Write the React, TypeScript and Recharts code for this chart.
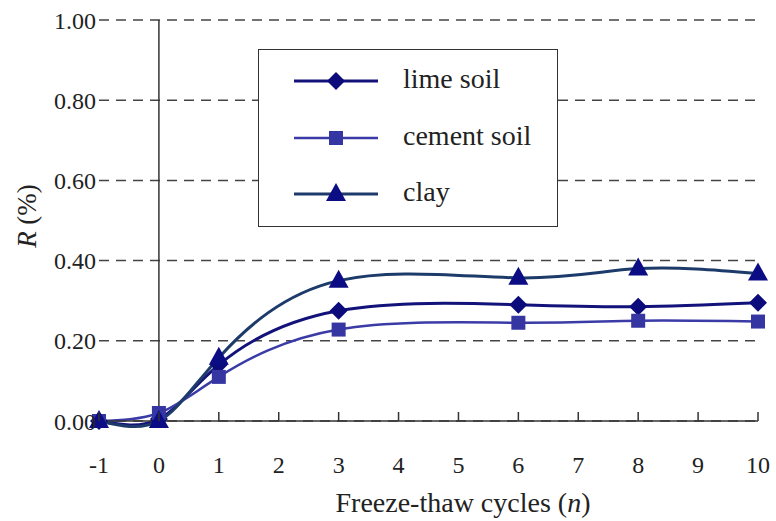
import { CartesianGrid, Legend, Line, LineChart, ReferenceLine, XAxis, YAxis } from 'recharts';

const cycles = [-1, 0, 1, 3, 6, 8, 10];
const limeSoil = [0, 0.005, 0.14, 0.275, 0.29, 0.285, 0.295];
const cementSoil = [0, 0.02, 0.11, 0.228, 0.245, 0.25, 0.248];
const clay = [0, 0, 0.158, 0.35, 0.357, 0.38, 0.368];

const xTicks = [-1, 0, 1, 2, 3, 4, 5, 6, 7, 8, 9, 10];
const yTicks = [0, 0.2, 0.4, 0.6, 0.8, 1.0];

const data = cycles.map((n, i) => ({ n, lime: limeSoil[i], cement: cementSoil[i], clay: clay[i] }));

const FONT = 'Liberation Serif';

type Shape = 'diamond' | 'square' | 'triangle';

const series: { key: string; name: string; stroke: string; fill: string; width: number; shape: Shape }[] = [
    { key: 'lime', name: 'lime soil', stroke: '#12127a', fill: '#0b0b7c', width: 3, shape: 'diamond' },
    { key: 'cement', name: 'cement soil', stroke: '#3b3ba8', fill: '#3636a3', width: 2.5, shape: 'square' },
    { key: 'clay', name: 'clay', stroke: '#1d3b6a', fill: '#0c0c85', width: 3, shape: 'triangle' },
];

function Marker({ cx, cy, shape, fill }: { cx: number; cy: number; shape: Shape; fill: string }) {
    if (shape === 'diamond') {
        return <polygon points={`${cx},${cy - 9} ${cx + 9},${cy} ${cx},${cy + 9} ${cx - 9},${cy}`} fill={fill} />;
    }
    if (shape === 'square') {
        return <rect x={cx - 7} y={cy - 7} width={14} height={14} fill={fill} />;
    }
    return <polygon points={`${cx},${cy - 11} ${cx + 10},${cy + 7} ${cx - 10},${cy + 7}`} fill={fill} />;
}

// tick mark points up into the plot, label sits well below the axis
function XTick({ x, y, payload }: any) {
    return (
        <g>
            <line x1={x} x2={x} y1={y - 9} y2={y} stroke="#333" strokeWidth={1.5} />
            <text x={x} y={y + 52} textAnchor="middle" fontSize={24} fontFamily={FONT} fill="#222">
                {payload.value}
            </text>
        </g>
    );
}

function LegendBox() {
    const rowTops = [31, 88, 144];
    return (
        <div
            style={{
                width: 300,
                height: 178,
                boxSizing: 'border-box',
                border: '1.5px solid #333',
                background: '#fff',
                position: 'relative',
                fontFamily: FONT,
            }}
        >
            {series.map((s, i) => (
                <div key={s.key} style={{ position: 'absolute', left: 0, top: rowTops[i] - 15, height: 30, width: 300 }}>
                    <svg width={100} height={30} style={{ position: 'absolute', left: 30, top: 0 }}>
                        <line x1={5} x2={89} y1={15} y2={15} stroke={s.stroke} strokeWidth={s.width} />
                        <Marker cx={47} cy={15} shape={s.shape} fill={s.fill} />
                    </svg>
                    <span style={{ position: 'absolute', left: 144, top: -3, fontSize: 28, lineHeight: '32px', color: '#222', fontFamily: FONT }}>
                        {s.name}
                    </span>
                </div>
            ))}
        </div>
    );
}

function XTitle() {
    return (
        <text x={463} y={512} textAnchor="middle" fontSize={28} fontFamily={FONT} fill="#222">
            Freeze-thaw cycles (<tspan fontStyle="italic">n</tspan>)
        </text>
    );
}

function YTitle() {
    return (
        <text
            x={27}
            y={216}
            transform="rotate(-90 27 216)"
            textAnchor="middle"
            dominantBaseline="central"
            fontSize={27}
            fontFamily={FONT}
            fill="#222"
        >
            <tspan fontStyle="italic">R</tspan> (%)
        </text>
    );
}

export default function App() {
    return (
        <div style={{ position: 'absolute', left: 0, top: 0, background: '#fff', fontFamily: FONT }}>
            <LineChart width={776} height={521} data={data} margin={{ top: 20, right: 18, left: 0, bottom: 40 }}>
                <CartesianGrid horizontal vertical={false} stroke="#444" strokeDasharray="10 7" strokeWidth={1.5} />
                <XAxis
                    dataKey="n"
                    type="number"
                    domain={[-1, 10]}
                    ticks={xTicks}
                    height={60}
                    interval={0}
                    tickLine={false}
                    tickSize={0}
                    tickMargin={0}
                    stroke="#333"
                    strokeWidth={1.5}
                    tick={<XTick />}
                    label={<XTitle />}
                />
                <YAxis
                    type="number"
                    domain={[0, 1]}
                    ticks={yTicks}
                    width={99}
                    axisLine={false}
                    tickLine={false}
                    tickSize={0}
                    tickMargin={3}
                    tickFormatter={(v: number) => v.toFixed(2)}
                    tick={{ fontSize: 24, fontFamily: FONT, fill: '#222' }}
                    label={<YTitle />}
                />
                <ReferenceLine x={0} stroke="#333" strokeWidth={1.5} />
                <Legend
                    layout="horizontal"
                    verticalAlign="middle"
                    align="center"
                    wrapperStyle={{ left: 258, top: 49, width: 300, height: 178 }}
                    content={<LegendBox />}
                />
                {series.map((s) => (
                    <Line
                        key={s.key}
                        dataKey={s.key}
                        name={s.name}
                        type="natural"
                        stroke={s.stroke}
                        strokeWidth={s.width}
                        isAnimationActive={false}
                        dot={(p: any) => <Marker key={`${s.key}-${p.index}`} cx={p.cx} cy={p.cy} shape={s.shape} fill={s.fill} />}
                        activeDot={false}
                    />
                ))}
            </LineChart>
        </div>
    );
}
